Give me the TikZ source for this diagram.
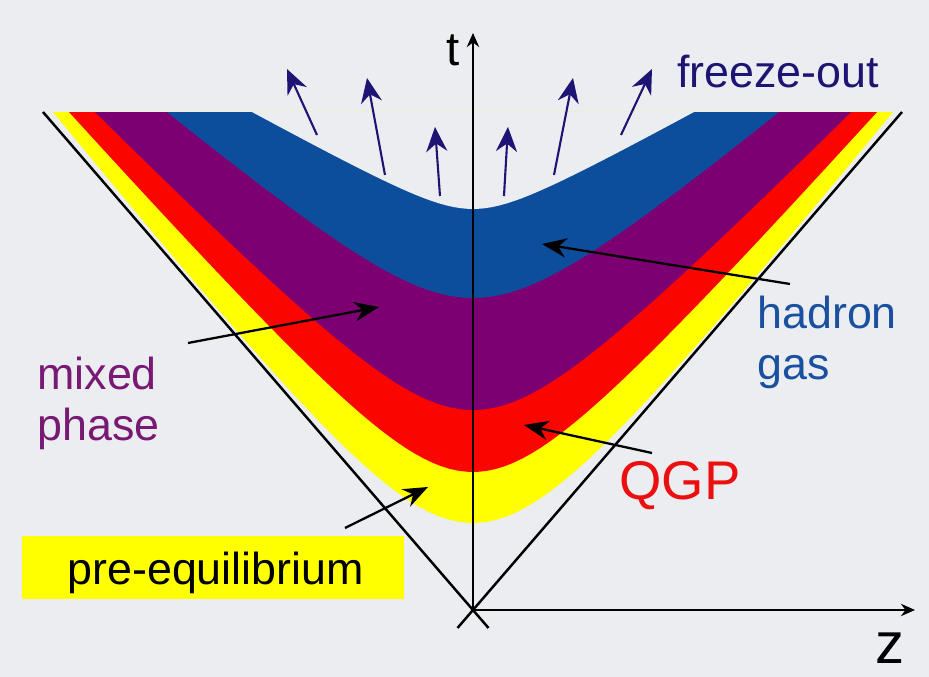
\documentclass[tikz,border=0pt]{standalone}
\usepackage{fontspec}
\setmainfont{Liberation Sans}
\usepackage{tikz}
\usetikzlibrary{arrows.meta,positioning}
\definecolor{bgpanel}{RGB}{236,237,241}
\definecolor{bandyellow}{RGB}{255,255,0}
\definecolor{bandred}{RGB}{250,5,0}
\definecolor{bandpurple}{RGB}{125,0,115}
\definecolor{bandblue}{RGB}{12,78,155}
\definecolor{freezenavy}{RGB}{30,20,115}
\definecolor{hadronblue}{RGB}{25,80,160}
\definecolor{mixedpurple}{RGB}{120,25,115}
\definecolor{qgpred}{RGB}{235,15,15}

\tikzset{
    labelarrow/.style={-{Stealth[length=14pt,width=11pt]}, line width=1.3pt, black},
    flowarrow/.style={-{Stealth[length=14pt,width=12pt]}, line width=1.2pt, freezenavy},
    coneline/.style={line width=1.4pt, black},
    axisline/.style={-{Stealth[length=8pt,width=7pt]}, line width=1.7pt, black},
    bigtext/.style={font=\fontsize{25.5}{29}\selectfont, inner sep=0pt}
}

\begin{document}
\begin{tikzpicture}[
    x=2mm, y=2mm,
    declare function={hyp(\zv,\tv,\av,\sv)=\tv-\av+sqrt(\av*\av+(\sv*\zv)*(\sv*\zv));}
]
    \useasboundingbox (-47.3,-6.7) rectangle (45.6,61.0);
    \fill[bgpanel] (-47.3,-6.7) rectangle (45.6,61.0);

    \fill[bandyellow] plot[domain=-42:42,samples=90] (\x,{hyp(\x,8.7,13.3,1.256)}) -- cycle;
    \fill[bandred] plot[domain=-40.4:40.4,samples=90] (\x,{hyp(\x,13.8,10.75,1.126)}) -- cycle;
    \fill[bandpurple] plot[domain=-37.8:37.8,samples=90] (\x,{hyp(\x,20,10,1.019)}) -- cycle;
    \fill[bandblue] plot[domain=-30.6:30.6,samples=90] (\x,{hyp(\x,31.2,8.51,0.841)}) -- cycle;
    \fill[bgpanel] plot[domain=-22.1:22.1,samples=60] (\x,{hyp(\x,40.1,2.85,0.553)}) -- cycle;

    \coordinate (O) at (0,0);
    \coordinate (coneL) at (-43.0,49.8);
    \coordinate (coneLend) at (1.55,-1.8);
    \coordinate (coneR) at (42.9,49.8);
    \coordinate (coneRend) at (-1.55,-1.8);
    \coordinate (ttip) at (0,57.7);
    \coordinate (ztip) at (44.2,0);

    \draw[coneline] (coneL) -- (coneLend);
    \draw[coneline] (coneR) -- (coneRend);
    \draw[axisline] (O) -- (ttip);
    \draw[axisline] (O) -- (ztip);

    \node[font=\fontsize{27}{30}\selectfont, inner sep=0pt] (tlabel) at (-2.0,56.0) {t};
    \node[font=\fontsize{33}{36}\selectfont, inner sep=0pt] (zlabel) at (41.7,-3.8) {z};

    \node[bigtext, text=freezenavy] (freezeout) at (30.5,53.8) {freeze-out};
    \node[
        bigtext,
        text=hadronblue,
        align=left,
        anchor=north west
    ] (hadrongas) at (28.4,31.4) {hadron\\gas};
    \node[
        bigtext,
        text=mixedpurple,
        align=left,
        anchor=north west
    ] (mixedphase) at (-43.6,25.3) {mixed\\phase};
    \node[
        font=\fontsize{31}{34}\selectfont,
        inner sep=0pt,
        text=qgpred
    ] (qgp) at (20.7,12.4) {QGP};
    \node[
        bigtext,
        fill=bandyellow,
        minimum width=7.64cm,
        minimum height=1.26cm,
        text depth=0pt
    ] (preeq) at (-26.0,4.2) {\hspace*{3pt}pre-equilibrium};

    \coordinate (hadtail) at (31.7,32.6);
    \coordinate (hadtip) at (6.9,36.6);
    \coordinate (mixtail) at (-28.5,26.7);
    \coordinate (mixtip) at (-9.4,30.3);
    \coordinate (qgptail) at (17.9,15.7);
    \coordinate (qgptip) at (5.1,18.5);
    \coordinate (pretail) at (-12.8,8.2);
    \coordinate (pretip) at (-4.5,12.3);

    \draw[labelarrow] (hadtail) -- (hadtip);
    \draw[labelarrow] (mixtail) -- (mixtip);
    \draw[labelarrow] (qgptail) -- (qgptip);
    \draw[labelarrow] (pretail) -- (pretip);

    \foreach \k/\xa/\ya/\xb/\yb in {1/-15.6/47.5/-18.6/54.1, 2/-8.8/43.5/-10.6/53.2,
        3/-3.3/41.4/-3.8/48.3, 4/3.1/41.4/3.5/48.3, 5/8.1/43.5/10.0/53.2, 6/14.8/47.5/17.9/54.1} {
        \coordinate (fo\k tail) at (\xa,\ya);
        \coordinate (fo\k tip) at (\xb,\yb);
        \draw[flowarrow] (fo\k tail) -- (fo\k tip);
    }
\end{tikzpicture}
\end{document}
